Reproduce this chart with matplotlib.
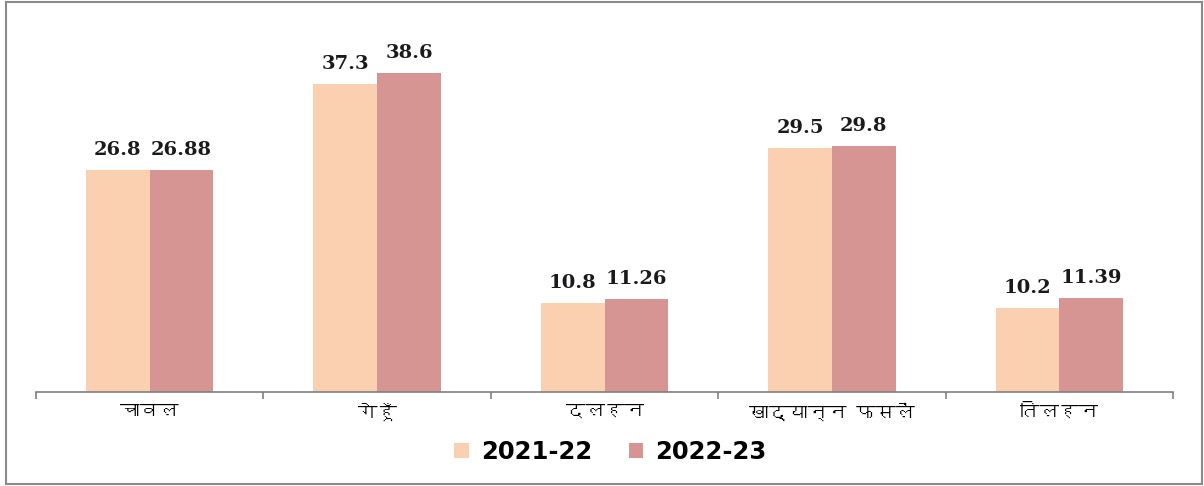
import matplotlib
matplotlib.use("Agg")
import matplotlib.pyplot as plt
from matplotlib import font_manager
from matplotlib.ft2font import FT2Font
from matplotlib.patches import Rectangle
import numpy as np

# data
categories = ["चावल", "गेहूँ", "दलहन", "खाद्यान्न फसलें", "तिलहन"]
years = ["2021-22", "2022-23"]
vals_2122 = [26.8, 37.3, 10.8, 29.5, 10.2]
vals_2223 = [26.88, 38.6, 11.26, 29.8, 11.39]
labels_2122 = ["26.8", "37.3", "10.8", "29.5", "10.2"]
labels_2223 = ["26.88", "38.6", "11.26", "29.8", "11.39"]

colors = ["#FAD0B0", "#D69492"]


def find_deva_font():
    # look for any installed font that covers Devanagari
    for f in font_manager.fontManager.ttflist:
        try:
            cmap = FT2Font(f.fname).get_charmap()
        except Exception:
            continue
        if 0x0915 in cmap and 0x093F in cmap:
            return f.name
    return None


deva = find_deva_font()
cat_family = [deva, "DejaVu Sans"] if deva else ["DejaVu Sans"]

fig = plt.figure(figsize=(12.04, 4.86), dpi=100)
ax = fig.add_axes([0.0299, 0.1934, 0.9444, 0.7655])

x = np.arange(len(categories))
w = 0.28
b1 = ax.bar(x - w / 2, vals_2122, w, color=colors[0], label=years[0])
b2 = ax.bar(x + w / 2, vals_2223, w, color=colors[1], label=years[1])

for bars, labs in [(b1, labels_2122), (b2, labels_2223)]:
    for rect, lab in zip(bars, labs):
        ax.annotate(lab, (rect.get_x() + rect.get_width() / 2, rect.get_height()),
                    xytext=(0, 8), textcoords="offset points",
                    ha="center", va="bottom", fontsize=14,
                    fontfamily="DejaVu Serif", fontweight="bold", color="#1a1a1a")

ax.set_xlim(-0.5, len(categories) - 0.5)
ax.set_ylim(0, 45)
for s in ["top", "right", "left"]:
    ax.spines[s].set_visible(False)
ax.spines["bottom"].set_color("#808080")
ax.spines["bottom"].set_linewidth(1.2)
ax.set_yticks([])

ax.set_xticks(x)
ax.set_xticklabels(categories, family=cat_family, fontsize=14, fontweight="bold")
ax.tick_params(axis="x", which="major", length=0, pad=8)
ax.set_xticks(np.arange(-0.5, len(categories)), minor=True)
ax.tick_params(axis="x", which="minor", length=5, width=1.2, color="#808080", direction="out")

leg = fig.legend(handles=[b1, b2], labels=years, loc="center", bbox_to_anchor=(0.507, 0.07),
                 ncol=2, frameon=False, prop={"family": "DejaVu Sans", "weight": "bold", "size": 17.5},
                 handlelength=0.6, handleheight=0.6, handletextpad=0.5, columnspacing=1.5)

# outer frame
fig.patches.append(Rectangle((6 / 1204, 2 / 486), 1196 / 1204, 482 / 486,
                             transform=fig.transFigure, fill=False,
                             edgecolor="#8a8a8a", linewidth=1.5))

fig.savefig("out.png", dpi=100)
